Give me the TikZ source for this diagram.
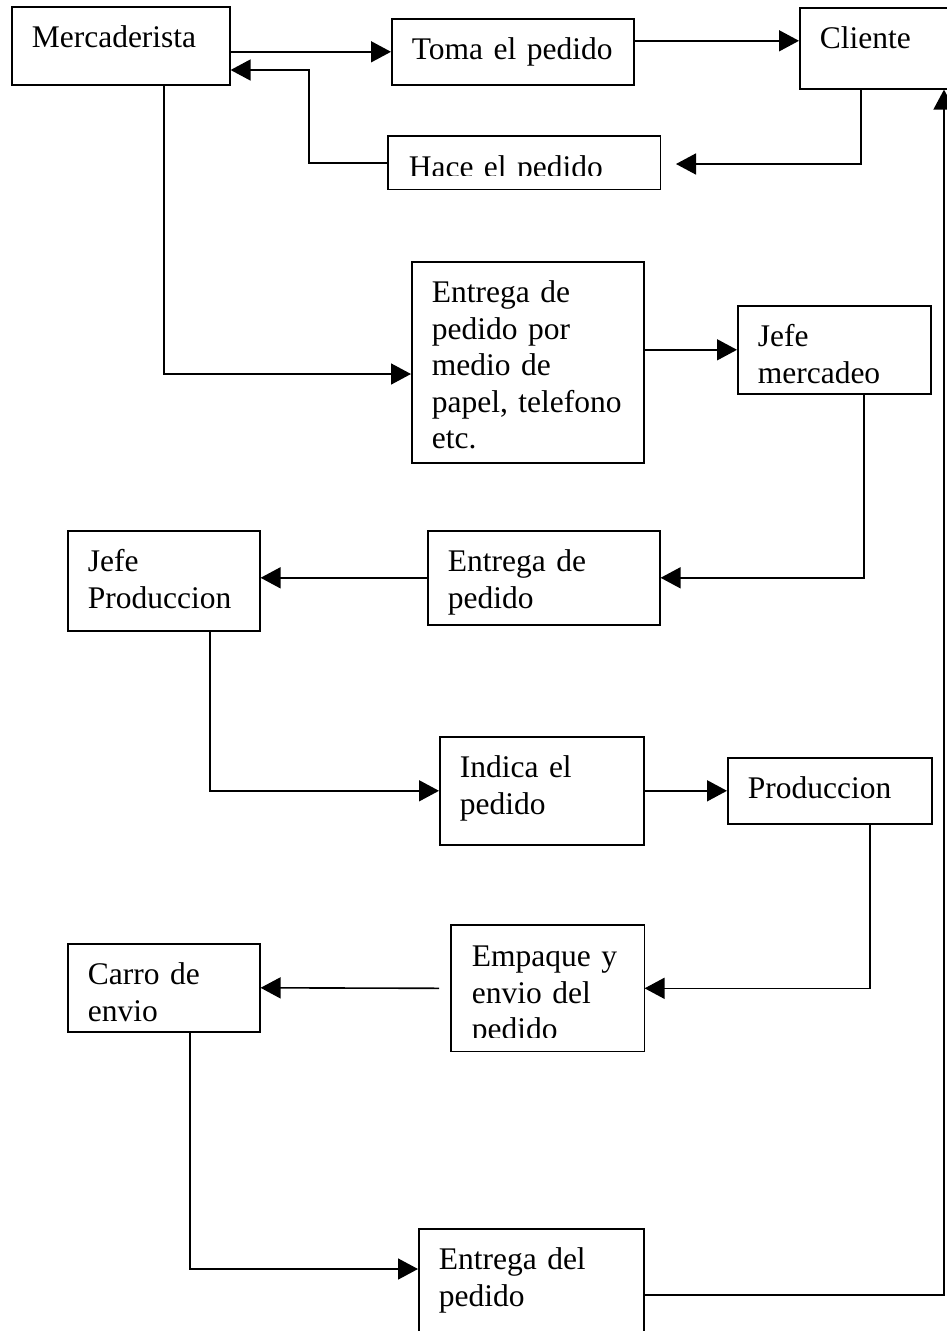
\documentclass[tikz,border=0pt]{standalone}
\usepackage{fontspec}
\setmainfont{Liberation Serif}
\usepackage{tikz}
\usetikzlibrary{shapes,arrows.meta}
\tikzstyle{caja} = [rectangle, draw, anchor=north west, inner xsep=20pt, inner ysep=0pt, text height=41pt, align=left]
\tikzstyle{flecha} = [draw, -{Triangle[length=20pt,width=21pt]}]

\begin{document}
\begin{tikzpicture}[x=1pt, y=-1pt, line width=1.6pt,
  % todo el texto con el mismo tamano de fuente
  font=\fontsize{31.5}{36.5}\selectfont
  ]
  \useasboundingbox (0,0) rectangle (947,1331);
  \fill[white] (0,0) rectangle (947,1331);
  \clip (0,0) rectangle (947,1331);

    % nodos
    \node [caja, text width=178pt, text depth=37pt] (merc) at (11,6) {Mercaderista};
    \node [caja, text width=202pt, text depth=25pt] (toma) at (391,18) {Toma el pedido};
    \node [caja, text width=120pt, text depth=40pt] (cliente) at (799,7) {Cliente};
    \begin{scope}
      \clip (380,130) rectangle (670,175);
      \node [caja, draw=none, text width=231pt, text depth=11pt] (hace) at (388,136) {Hace el pedido};
    \end{scope}
    \draw (hace.north west) rectangle (hace.south east);
    \node [caja, text width=192pt, text depth=160pt] (entrega) at (411,261) {Entrega de\\ pedido por\\ medio de\\ papel, telefono\\ etc.};
    \node [caja, text width=153pt, text depth=47pt] (jefeM) at (737,305) {Jefe\\ mercadeo};
    \node [caja, text width=192pt, text depth=53pt] (entrega2) at (427,530) {Entrega de\\ pedido};
    \node [caja, text width=152pt, text depth=59pt] (jefeP) at (67,530) {Jefe\\ Produccion};
    \node [caja, text width=164pt, text depth=67pt] (indica) at (439,736) {Indica el\\ pedido};
    \node [caja, text width=164pt, text depth=25pt] (prod) at (727,757) {Produccion};
    \begin{scope}
      \clip (440,915) rectangle (655,1037);
      \node [caja, draw=none, text width=152pt, text depth=84pt] (empaque) at (451,925) {Empaque y\\ envio del\\ pedido};
    \end{scope}
    \draw (empaque.north west) rectangle (empaque.south east);
    \node [caja, text width=152pt, text depth=47pt] (carro) at (67,943) {Carro de\\ envio};
    \node [caja, text width=185pt, text depth=91pt] (entregaF) at (418,1228) {Entrega del\\ pedido};

    % puntos de quiebre
    \coordinate (r1) at (309,70);
    \coordinate (r2) at (861,164);
    \coordinate (r2fin) at (676,164);
    \coordinate (r3) at (164,374);
    \coordinate (r4) at (864,577);
    \coordinate (r5) at (210,792);
    \coordinate (r6) at (870,987);
    \coordinate (r8) at (190,1269);
    \coordinate (r9) at (944,1297);

    % conexiones
    \path [flecha] (merc.east |- toma.west) -- (toma.west);
    \path [flecha] ([yshift=11pt]toma.east) -- ([yshift=11pt]toma.east -| cliente.west);
    \path [flecha] (hace.west) -| (r1) -- (r1 -| merc.east);
    \path [flecha] (r2 |- cliente.south) |- (r2fin);
    \path [flecha] (r3 |- merc.south) |- (r3 -| entrega.west);
    \path [flecha] (entrega.east |- jefeM.west) -- (jefeM.west);
    \path [flecha] (r4 |- jefeM.south) |- (entrega2.east);
    \path [flecha] (entrega2.west) -- (entrega2.west -| jefeP.east);
    \path [flecha] (r5 |- jefeP.south) |- (indica.west);
    \path [flecha] (indica.east) -- (indica.east -| prod.west);
    \path [flecha] (r6 |- prod.south) |- (empaque.east);
    \path [flecha] ([xshift=-12pt]empaque.west) -- (carro.east);
    \path [flecha] (r8 |- carro.south) |- (r8 -| entregaF.west);
    \path [flecha] (entregaF.east) -| (r9 |- cliente.south);

  \end{tikzpicture}
\end{document}
